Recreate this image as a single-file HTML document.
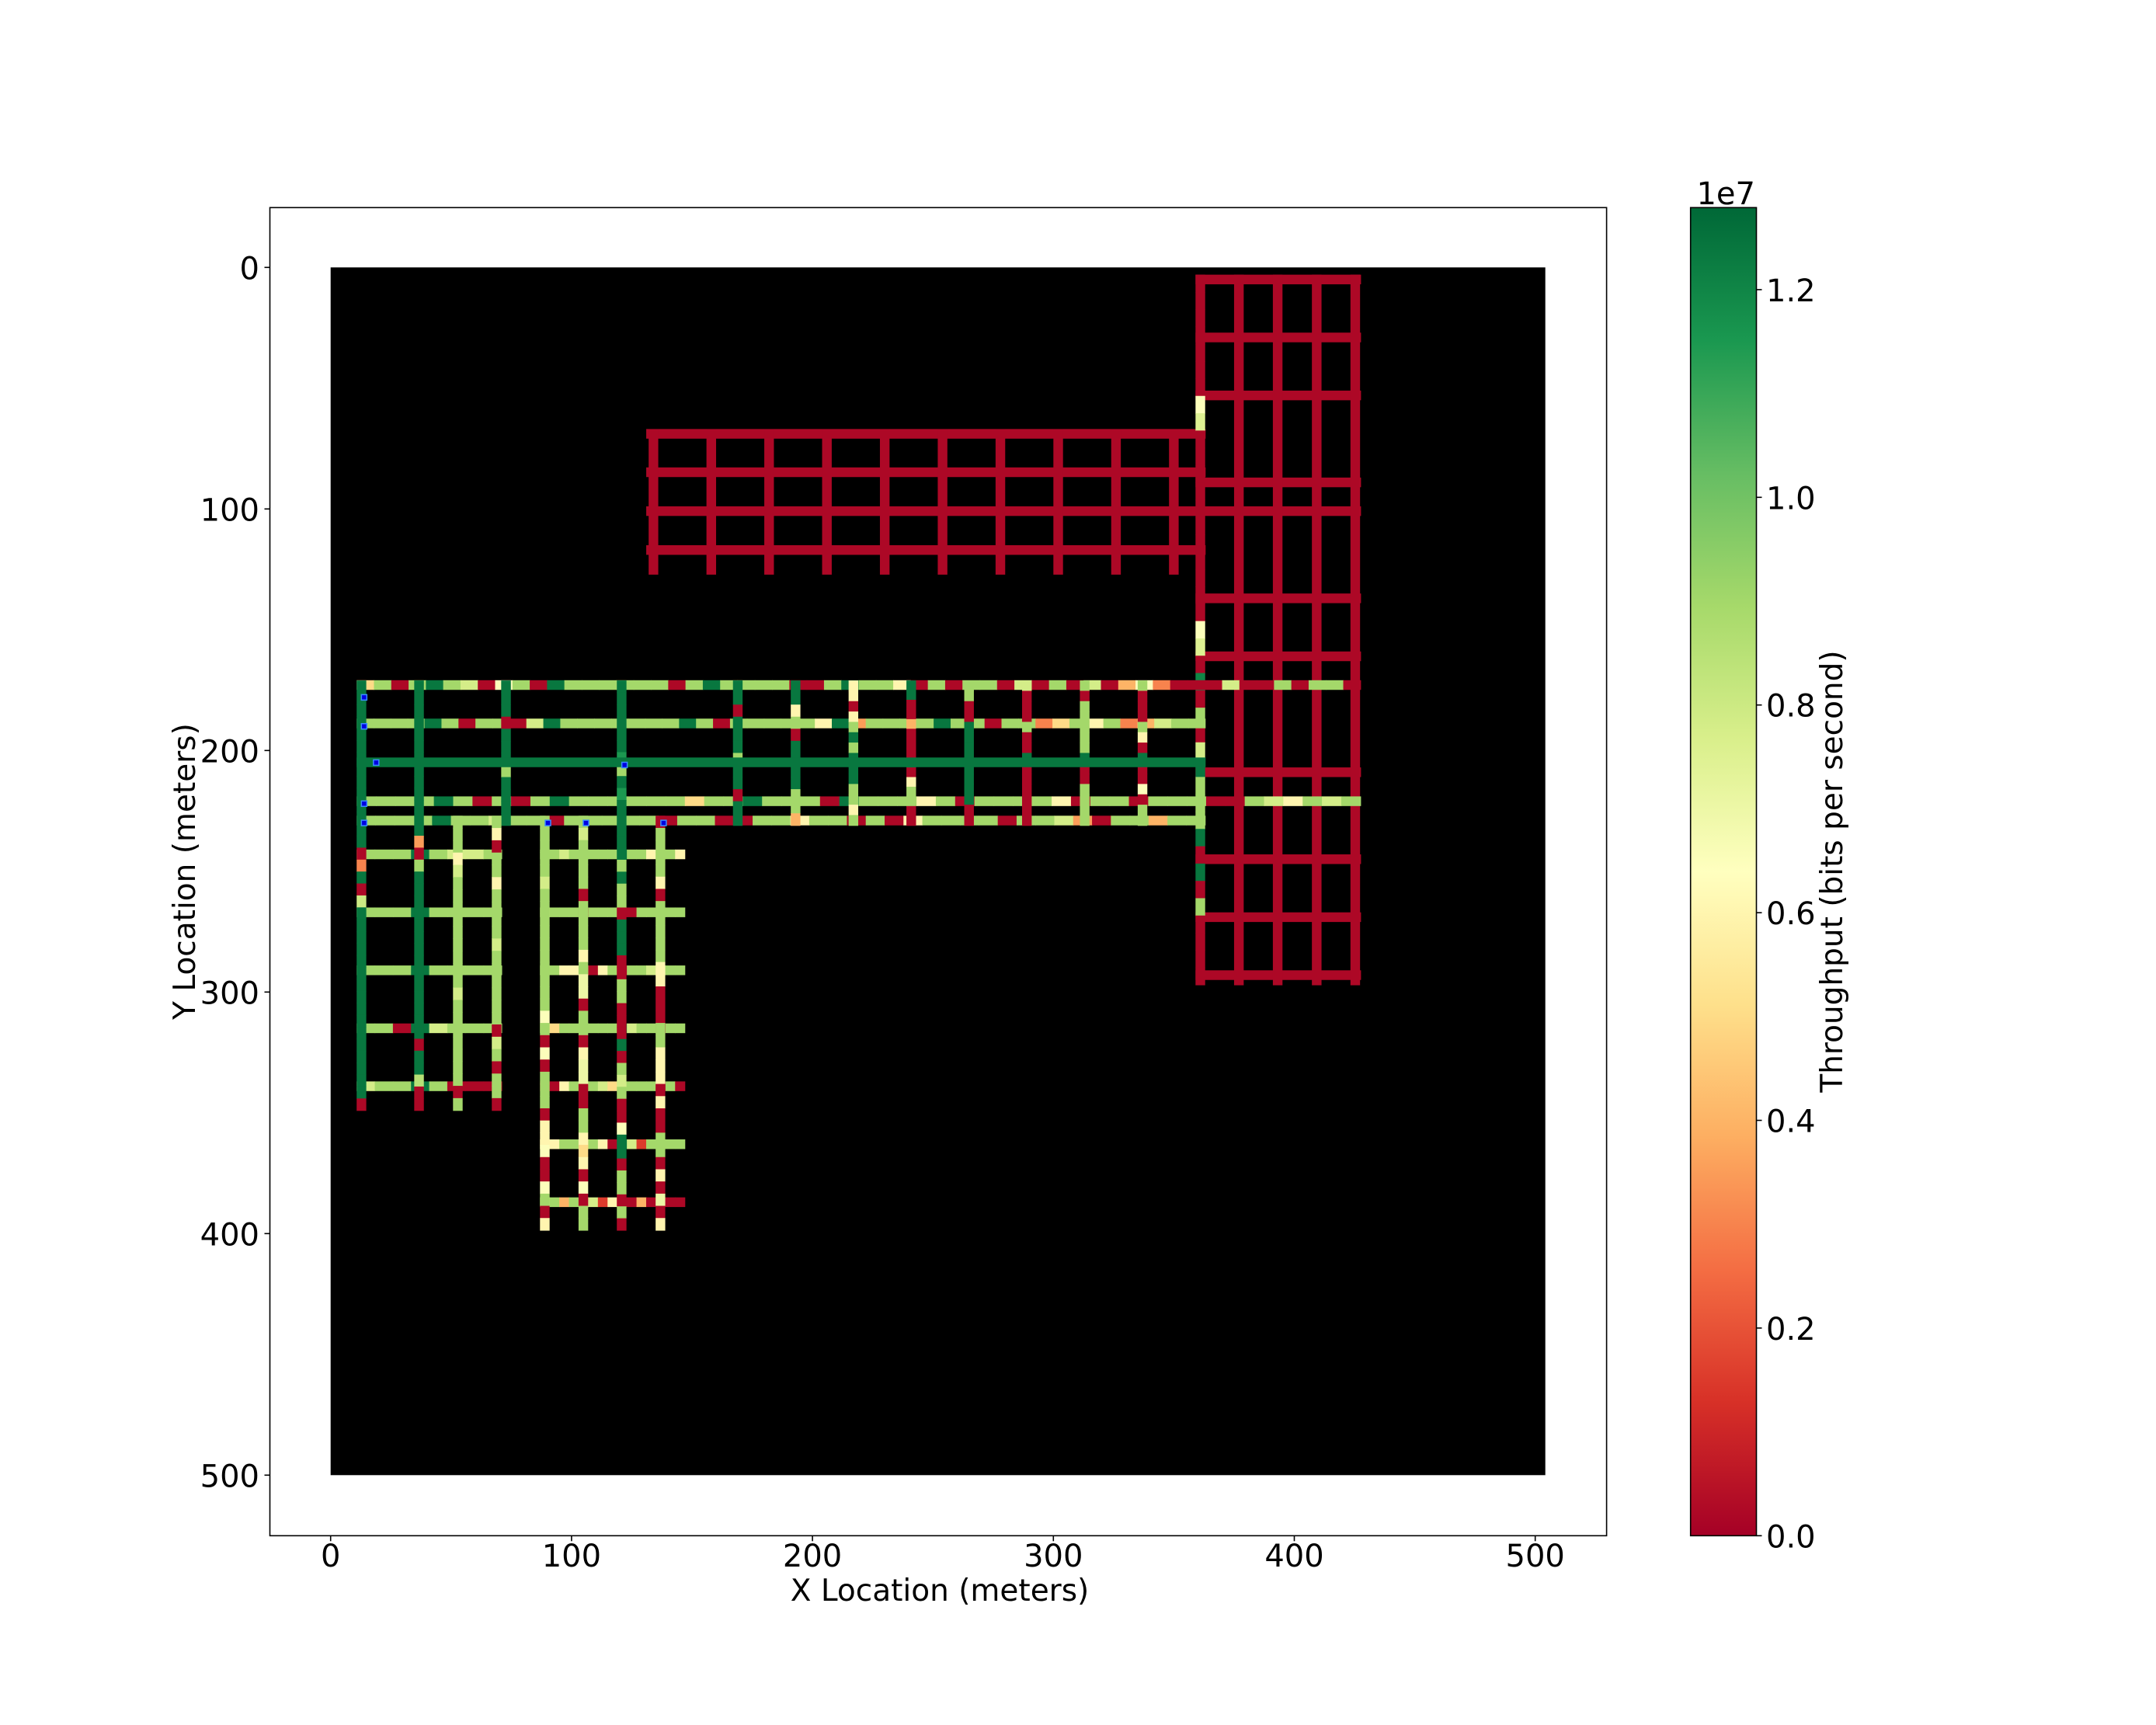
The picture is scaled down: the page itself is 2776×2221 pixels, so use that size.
<!DOCTYPE html>
<html><head><meta charset="utf-8"><title>Throughput map</title>
<style>
html,body{margin:0;padding:0;background:#fff;}
svg{display:block;font-family:"DejaVu Sans","Liberation Sans",sans-serif;}
</style></head>
<body>
<svg id="chart" width="2776" height="2221" viewBox="0 0 2776 2221" xmlns="http://www.w3.org/2000/svg">
<defs>
<linearGradient id="cbgrad" x1="0" y1="1" x2="0" y2="0">
<stop offset="0" stop-color="#a50026"/><stop offset="0.1" stop-color="#d73027"/><stop offset="0.2" stop-color="#f46d43"/><stop offset="0.3" stop-color="#fdae61"/><stop offset="0.4" stop-color="#fee08b"/><stop offset="0.5" stop-color="#ffffbf"/><stop offset="0.6" stop-color="#d9ef8b"/><stop offset="0.7" stop-color="#a6d96a"/><stop offset="0.8" stop-color="#66bd63"/><stop offset="0.9" stop-color="#1a9850"/><stop offset="1" stop-color="#006837"/>
</linearGradient>
</defs>
<rect x="347.5" y="267.3" width="1721.1" height="1710" fill="#fff"/>
<rect x="425.7" y="344.3" width="1564" height="1555" fill="#000"/>
<g id="roads"></g>
<g id="markers"></g>
<rect x="347.5" y="267.3" width="1721.1" height="1710" fill="none" stroke="#000" stroke-width="1.6"/>
<g id="xticks"></g>
<g id="yticks"></g>
<text x="1210" y="2061" font-size="39" text-anchor="middle">X Location (meters)</text>
<text x="0" y="0" font-size="39" text-anchor="middle" transform="translate(251,1122) rotate(-90)">Y Location (meters)</text>
<rect x="2176.7" y="267.3" width="84.8" height="1710" fill="url(#cbgrad)" stroke="#000" stroke-width="1.6"/>
<g id="cbticks"></g>
<text x="2260" y="263" font-size="40" text-anchor="end">1e7</text>
<text x="0" y="0" font-size="39" text-anchor="middle" transform="translate(2372,1122) rotate(-90)">Throughput (bits per second)</text>
</svg>
<script>
// ---- data (throughput values in units of 1e6 bits/s) ----
const xTicks = [0,100,200,300,400,500];
const yTicks = [0,100,200,300,400,500];
const cbTicks = [0.0,0.2,0.4,0.6,0.8,1.0,1.2];
const cbMax = 1.279; // x1e7

// horizontal roads: y position (m), start x, end x, values
const rowPos   = [5,29,53,89,137,161,209,245,269,293, 68.9,84.8,100.9,117,
                  172.9,188.8,221,229, 243,267,291,315,339, 243,267,291,315,339,363,387, 204.9];
const rowStart = [359,359,359,359,359,359,359,359,359,359, 131,131,131,131,
                  10.8,10.8,10.8,10.8, 10.8,10.8,10.8,10.8,10.8, 86.9,86.9,86.9,86.9,86.9,86.9,86.9, 10.8];
const rowEnd   = [427.5,427.5,427.5,427.5,427.5,427.5,427.5,427.5,427.5,427.5, 363,363,427.5,363,
                  427.5,363,427.5,363, 71,71,71,71,71, 147,147,147,147,147,147,147, 363];
const rowVals = [
 [0.2],[0.2],[0.2],[0.2],[0.2],[0.2],[0.2],[0.2],[0.2],[0.2],
 [0.2],[0.2],[0.2],[0.2],
 [5,9,0.2,9,12.4,9,7.8,0.2,6.5,9,0.2,12.4,9,9,9,9,9,9,0.2,9,12.4,9,9,9,9,0.2,0.2,9,12.4,9,9,6,0.2,9,0.2,9,9,0.2,7.8,0.2,9,0.2,7.8,0.2,4,6.5,3,0.2,0.2,0.2,7.8,0.2,0.2,9,0.2,9,9,0.2],
 [9,9,9,9,12.4,9,0.2,9,9,0.2,7.8,12.4,9,9,9,9,9,9,9,12.4,9,0.2,9,9,9,9,9,6,12.4,3.5,9,9,9,9,12.4,9,9,0.2,9,9,3,5,9,6,9,3,4,7.8,9,9],
 [9,9,9,9,12.4,9,0.2,9,0.2,9,12.4,9,9,9,9,9,9,5,9,9,12.4,9,9,9,0.2,12.4,9,9,9,6,9,0.2,9,9,9,9,6,0.2,9,9,0.2,9,9,9,0.2,0.2,9,7.8,6,9,7.8,9],
 [9,9,9,9,12.4,9,9,7.8,9,9,0.2,9,9,9,9,9,0.2,9,9,0.2,0.2,9,9,6,9,9,0.2,9,0.2,6,9,9,9,9,0.2,9,9,7.8,3.5,0.2,9,9,4,9,9],
 [9,9,9,12.4,9,7.8,7.8,9],
 [9,9,9,12.4,9,9,9,9],
 [9,9,9,12.4,9,9,9,9],
 [9,9,0.2,12.4,7.8,9,9,9],
 [7.8,9,9,12.4,9,0.2,0.2,0.2],
 [9,9,7.8,9,9,9,9,9,12.4,9,9,6,9,9,6],
 [7.8,9,9,9,0.2,9,9,9,0.2,0.2,9,9,9,9,9],
 [9,9,6,6,9,0.2,6,9,0.2,9,9,7.8,9,9,9],
 [7.8,5,9,9,9,9,9,9,12.4,7.8,9,9,0.2,9,9],
 [0.2,0.2,6,9,9,9,7.8,5,9,9,9,9,0.2,9,0.2],
 [6,6,9,9,4.5,9,6,0.2,12.4,7.8,1.5,9,9,9,9],
 [7.8,9,4,9,6,7.8,1.5,6,0.2,0.2,4,0.2,0.2,0.2,0.2],
 [12.4]
];

// vertical roads: x position (m), start y, end y, values
const colPos   = [377,393.1,409.3,425.3, 134,158,182,206,230,254,278,302,326,350, 361,
                  12.8,36.7,72.8,120.8,169,193,217,241,265,289,313,337, 52.8,68.9, 88.9,104.9,136.9];
const colStart = [3,3,3,3, 67,67,67,67,67,67,67,67,67,67, 3,
                  171,171,171,171,171,171,171,171,171,171,171,171, 227,227, 227,227,227];
const colEnd   = [297,297,297,297, 127,127,127,127,127,127,127,127,127,127, 297,
                  349,349,231,398.6,231,231,231,231,231,231,231,231, 349,349, 398.6,398.6,398.6];
const colVals = [
 [0.2],[0.2],[0.2],[0.2],
 [0.2],[0.2],[0.2],[0.2],[0.2],[0.2],[0.2],[0.2],[0.2],[0.2],
 [0.2,0.2,0.2,0.2,0.2,0.2,0.2,6.5,7.5,0.2,0.2,0.2,0.2,0.2,0.2,0.2,0.2,0.2,0.2,0.2,6.5,7.5,0.2,12,0.2,9,0.2,7.8,12.4,9,9,9,12.4,0.2,12.4,0.2,9,0.2,0.2,0.2,0.2],
 [12.4,12.4,12.4,12.4,12.4,12.4,12.4,12.4,12.4,12.4,12.4,12.4,12.4,12.4,0.2,3,12.4,0.2,8,12.4,12.4,12.4,12.4,12.4,12.4,12.4,12.4,12.4,12.4,12.4,12.4,12.4,12.4,12.4,12.4,0.2],
 [12.4,12.4,12.4,12.4,12.4,12.4,12.4,12.4,12.4,12.4,12.4,12.4,12.4,3.5,0.2,9,12.4,12.4,12.4,12.4,12.4,12.4,12.4,12.4,12.4,12.4,12.4,12.4,12.4,12.4,0.2,12.4,12.4,8.5,0.2,0.2],
 [12.4,12.4,12.4,0.2,12.4,12.4,12.4,9,12.4,12.4,12.4,12.4],
 [12.4,12.4,12.4,12.4,12.4,12.4,11.5,9,12.4,11.5,12.4,12.4,12.4,12.4,12.4,9,12.4,9,9,0.2,12.4,12.4,12.4,0.2,0.2,9,9,0.2,0.2,0.2,12.4,0.2,9,7.8,9,0.2,0.2,6.5,12.4,12.4,0.2,9,9,0.2,9,0.2],
 [12.4,12.4,0.2,12.4,12.4,12.4,9,12.4,12.4,0.2,12.4,12.4],
 [12.4,12.4,6,9,0.2,12.4,12.4,12.4,12.4,9,9,4],
 [6,6,0.2,6,9,12.4,9,12.4,12.4,12.4,9,9,6,9],
 [12.4,12.4,0.2,0.2,4,0.2,0.2,0.2,12.4,0.2,6,9,9,0.2,0.2],
 [9,9,0.2,0.2,12.4,12.4,12.4,12.4,12.4,12.4,12.4,12.4,0.2,0.2],
 [7.8,0.2,0.2,0.2,9,0.2,0.2,12.4,0.2,0.2,0.2,0.2,0.2,0.2],
 [9,0.2,9,9,9,9,9,12.4,0.2,0.2,9,9,9,9],
 [9,0.2,0.2,0.2,9,6,0.2,12.4,0.2,0.2,6.5,0.2,9,9],
 [9,9,9,6,7.8,9,9,9,9,9,9,9,9,9,7.8,9,9,9,9,9,9,9,0.2,9],
 [9,6,0.2,9,9,6,9,9,9,9,7.8,9,9,9,9,9,9,0.2,7.8,9,0.2,9,9,0.2],
 [9,9,9,9,9,7.8,9,9,9,9,9,9,9,9,9,9,6.5,9,0.2,6.5,0.2,9,9,9,0.2,6,6,6.5,0.2,0.2,6.5,9,0.2,6],
 [9,7.8,9,9,9,9,0.2,9,9,9,9,6,9,7,7,0.2,9,9,0.2,6,7,7,0.2,0.2,9,9,6,5,6,0.2,6.5,0.2,9,9],
 [0.2,9,9,9,9,6,0.2,9,9,9,9,9,6,6,0.2,0.2,0.2,9,9,6,6,6,0.2,6,0.2,0.2,9,9,0.2,6,0.2,7,0.2,6]
];

const markerX = [13.9,13.9,18.9,13.9,13.9,122,90.2,106,138.2];
const markerY = [178,190,205,222,230,206,230,230,230];

// ---- axis functions ----
function X(m){ return 425.7 + m*3.102; }
function Y(m){ return 344.3 + m*3.11; }
function CBY(v){ return 1977.3 - v/cbMax*1710; }

const stops = ["#a50026","#d73027","#f46d43","#fdae61","#fee08b","#ffffbf","#d9ef8b","#a6d96a","#66bd63","#1a9850","#006837"];
function hex(h){ return [parseInt(h.substr(1,2),16),parseInt(h.substr(3,2),16),parseInt(h.substr(5,2),16)]; }
function cmap(v){ // v in 1e6
  let t = Math.max(0, Math.min(1, v/(cbMax*10)));
  let p = t*10, i = Math.min(9, Math.floor(p)), f = p - i;
  let a = hex(stops[i]), b = hex(stops[i+1]);
  return "rgb(" + a.map((c,k)=>Math.round(c+(b[k]-c)*f)).join(",") + ")";
}

const NS = "http://www.w3.org/2000/svg";
const roads = document.getElementById("roads");
const HW = 2.0; // half road width in meters

function drawRow(i){
  const vals = rowVals[i], len = (rowEnd[i]-rowStart[i])/vals.length;
  for(let k=0;k<vals.length;k++){
    const r = document.createElementNS(NS,"rect");
    r.setAttribute("x", X(rowStart[i]+k*len));
    r.setAttribute("y", Y(rowPos[i]-HW));
    r.setAttribute("width", len*3.102+0.6);
    r.setAttribute("height", 2*HW*3.11);
    r.setAttribute("fill", cmap(vals[k]));
    
    
    roads.appendChild(r);
  }
}
function drawCol(i){
  const vals = colVals[i], len = (colEnd[i]-colStart[i])/vals.length;
  for(let k=0;k<vals.length;k++){
    const r = document.createElementNS(NS,"rect");
    r.setAttribute("x", X(colPos[i]-HW));
    r.setAttribute("y", Y(colStart[i]+k*len));
    r.setAttribute("width", 2*HW*3.102);
    r.setAttribute("height", len*3.11+0.6);
    r.setAttribute("fill", cmap(vals[k]));
    
    
    roads.appendChild(r);
  }
}
for(let i=0;i<14;i++) drawRow(i);
for(let i=0;i<15;i++) drawCol(i);
for(let i=14;i<rowPos.length-1;i++) drawRow(i);
for(let i=15;i<colPos.length;i++) drawCol(i);
drawRow(rowPos.length-1);

const mk = document.getElementById("markers");
for(let i=0;i<markerX.length;i++){
  const r = document.createElementNS(NS,"rect");
  r.setAttribute("x", X(markerX[i])-3.5);
  r.setAttribute("y", Y(markerY[i])-3.5);
  r.setAttribute("width", 7);
  r.setAttribute("height", 7);
  r.setAttribute("fill", "#0000e0");
  r.setAttribute("stroke", "#3a8cff");
  r.setAttribute("stroke-width", "1.5");
  
  
  mk.appendChild(r);
}

const xt = document.getElementById("xticks");
xTicks.forEach(v=>{
  const l = document.createElementNS(NS,"line");
  l.setAttribute("x1",X(v)); l.setAttribute("x2",X(v));
  l.setAttribute("y1",1977.3); l.setAttribute("y2",1984.3);
  l.setAttribute("stroke","#000"); l.setAttribute("stroke-width","1.6");
  
  
  xt.appendChild(l);
  const t = document.createElementNS(NS,"text");
  t.setAttribute("x",X(v)); t.setAttribute("y",2017);
  t.setAttribute("font-size","40"); t.setAttribute("text-anchor","middle");
  t.textContent = v;
  
  
  xt.appendChild(t);
});
const yt = document.getElementById("yticks");
yTicks.forEach(v=>{
  const l = document.createElementNS(NS,"line");
  l.setAttribute("x1",340.5); l.setAttribute("x2",347.5);
  l.setAttribute("y1",Y(v)); l.setAttribute("y2",Y(v));
  l.setAttribute("stroke","#000"); l.setAttribute("stroke-width","1.6");
  
  
  yt.appendChild(l);
  const t = document.createElementNS(NS,"text");
  t.setAttribute("x",334); t.setAttribute("y",Y(v)+15);
  t.setAttribute("font-size","40"); t.setAttribute("text-anchor","end");
  t.textContent = v;
  
  
  yt.appendChild(t);
});
const ct = document.getElementById("cbticks");
cbTicks.forEach(v=>{
  const l = document.createElementNS(NS,"line");
  l.setAttribute("x1",2261.5); l.setAttribute("x2",2268.5);
  l.setAttribute("y1",CBY(v)); l.setAttribute("y2",CBY(v));
  l.setAttribute("stroke","#000"); l.setAttribute("stroke-width","1.6");
  
  
  ct.appendChild(l);
  const t = document.createElementNS(NS,"text");
  t.setAttribute("x",2274); t.setAttribute("y",CBY(v)+15);
  t.setAttribute("font-size","40");
  t.textContent = v.toFixed(1);
  
  
  ct.appendChild(t);
});
</script>
</body></html>
